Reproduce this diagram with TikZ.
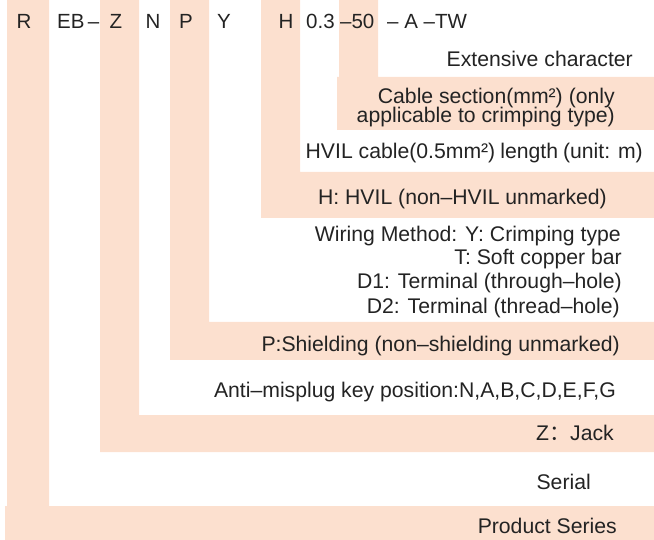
\documentclass[tikz,border=0pt]{standalone}
\usepackage{fontspec}
\setmainfont{Liberation Sans}
\newfontfamily\cjk{Noto Sans CJK SC}
\definecolor{peach}{RGB}{252,224,207}
\definecolor{ink}{RGB}{35,35,35}
\begin{document}
\begin{tikzpicture}[x=1pt,y=-1pt,
  band/.style={fill=peach,draw=none},
  lbl/.style={anchor=base east,inner sep=0pt,text=ink,font=\fontsize{21.2}{23}\selectfont},
  code/.style={anchor=base,inner sep=0pt,text=ink,font=\fontsize{20.5}{22}\selectfont},
  codew/.style={anchor=base west,inner sep=0pt,text=ink,font=\fontsize{20.5}{22}\selectfont}]
\useasboundingbox (0,0) rectangle (654,540);
% bands
\fill[band] (7,0) -- (49,0) -- (49,506) -- (654,506) -- (654,540) -- (5,540) -- (5,506) -- (7,506) -- cycle;
\fill[band] (100,0) -- (139,0) -- (139,415) -- (654,415) -- (654,452) -- (100,452) -- cycle;
\fill[band] (170,0) -- (209,0) -- (209,322) -- (654,322) -- (654,360) -- (170,360) -- cycle;
\fill[band] (261,0) -- (300,0) -- (300,172) -- (654,172) -- (654,218) -- (261,218) -- cycle;
\fill[band] (339,0) -- (378,0) -- (378,77) -- (654,77) -- (654,130) -- (337,130) -- (337,77) -- (339,77) -- cycle;
% top code
\node[code] (cR) at (24,29) {R};
\node[codew] (cEB) at (57,29) {EB\,–};
\node[code] (cZ) at (116,29) {Z};
\node[code] (cN) at (153,29) {N};
\node[code] (cP) at (186,29) {P};
\node[code] (cY) at (224,29) {Y};
\node[code] (cH) at (286,29) {H};
\node[codew] (c03) at (306,29) {0.3};
\node[codew] (c50) at (340,29) {–50};
\node[codew] (cTW) at (387,29) {– A –TW};
% labels
\node[lbl] (lExt) at (633,67) {Extensive character};
\node[lbl] (lCab1) at (615,104) {Cable section(mm²)\hspace{6pt}(only};
\node[lbl] (lCab2) at (615,123) {applicable to crimping type)};
\node[lbl] (lLen) at (643,159) {HVIL cable(0.5mm²)\hspace{5pt}length\hspace{5pt}(unit: m)};
\node[lbl] (lH) at (607,205) {H: HVIL (non–HVIL unmarked)};
\node[lbl] (lW1) at (621,242) {Wiring Method: Y: Crimping type};
\node[lbl] (lW2) at (622,265) {T: Soft copper bar};
\node[lbl] (lW3) at (622,289) {D1: Terminal (through–hole)};
\node[lbl] (lW4) at (620,314) {D2: Terminal (thread–hole)};
\node[lbl] (lP) at (620,352) {P:Shielding (non–shielding unmarked)};
\node[lbl] (lN) at (616,397) {Anti–misplug key position:N,A,B,C,D,E,F,G};
\node[lbl] (lZ) at (614,440) {Z{\cjk ：}Jack};
\node[lbl] (lS) at (591,489) {Serial};
\node[lbl] (lR) at (617,533) {Product Series};
\end{tikzpicture}
\end{document}
